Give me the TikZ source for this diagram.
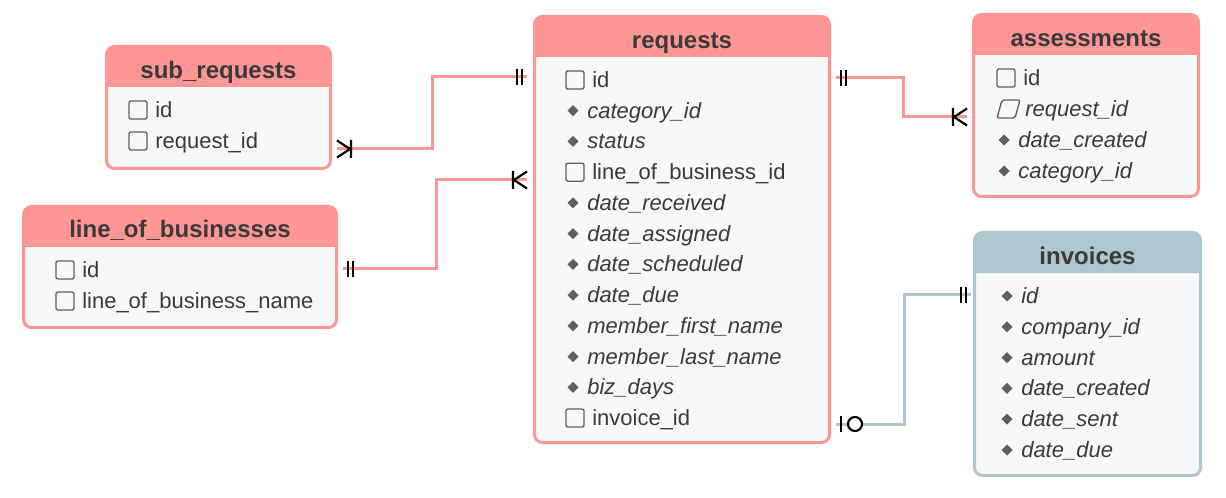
\documentclass[tikz,border=0pt]{standalone}
\usepackage{fontspec}
\setmainfont{Liberation Sans}
\usetikzlibrary{calc, positioning}
\definecolor{erpink}{RGB}{255, 150, 150}
\definecolor{erteal}{RGB}{172, 200, 206}
\definecolor{erbody}{RGB}{247, 248, 250}
\definecolor{ertext}{RGB}{58, 58, 58}
\definecolor{ericon}{RGB}{95, 95, 95}

\begin{document}
\begin{tikzpicture}[x=0.75pt, y=-0.75pt,
    tbl/.style={rectangle, draw=#1, fill=erbody, line width=2.25pt, rounded corners=6pt, inner sep=0pt, outer sep=0pt},
    title/.style={font=\fontsize{18}{20}\selectfont\bfseries, text=ertext, anchor=base, inner sep=0pt},
    fld/.style={font=\fontsize{16.5}{18}\selectfont, text=ertext, anchor=base west, inner sep=0pt},
    chk-txt/.style={fld, xshift=19.5pt},
    dia-txt/.style={fld, xshift=15.75pt, font=\fontsize{16.5}{18}\selectfont\itshape},
    slant-txt/.style={fld, xshift=21pt, font=\fontsize{16.5}{18}\selectfont\itshape},
    rel/.style={draw=#1, line width=2.25pt},
    crowline/.style={draw=black, line width=1.6pt},
    chk/.pic={\draw[ericon, line width=1pt, rounded corners=1.5pt] (0,-9) rectangle (18,9);},
    slant/.pic={\draw[ericon, line width=1pt, rounded corners=1.5pt] (0,9) -- (18,9) -- (23,-9) -- (5,-9) -- cycle;},
    dia/.pic={\fill[ericon] (1.5,0) -- (7,-5.5) -- (12.5,0) -- (7,5.5) -- cycle;},
    mandone/.pic={\draw[crowline] (5,-8) -- (5,8) (10,-8) -- (10,8);},
    onemany/.pic={\draw[crowline] (0,-8.5) -- (13,0) -- (0,8.5) (14,-9) -- (14,9);},
    zeroone/.pic={\draw[crowline] (5,-8) -- (5,8); \draw[crowline, fill=white] (19,0) circle [radius=5.25pt];}
]
    \useasboundingbox (0,0) rectangle (1226,498);

    % sub_requests
    \node[tbl=erpink, minimum width=224*0.75pt, minimum height=122*0.75pt] (subreq) at (218.5,107.5) {};
    \fill[erpink, rounded corners=6pt] (subreq.north west) rectangle ($(subreq.north east)+(0,40.5)$);
    \fill[erpink] ($(subreq.north west)+(0,20)$) rectangle ($(subreq.north east)+(0,40.5)$);
    \node[title] (subreq-title) at (218.5,78.5) {sub\_requests};
    \foreach \k/\f [count=\i from 0] in {chk/id, chk/request\_id} {
        \pic at (129, 110+31*\i) {\k};
        \node[\k-txt] (sr-\i) at (129, 117.5+31*\i) {\f};
    }

    % line_of_businesses
    \node[tbl=erpink, minimum width=313*0.75pt, minimum height=121*0.75pt] (lob) at (180,267) {};
    \fill[erpink, rounded corners=6pt] (lob.north west) rectangle ($(lob.north east)+(0,40.5)$);
    \fill[erpink] ($(lob.north west)+(0,20)$) rectangle ($(lob.north east)+(0,40.5)$);
    \node[title] (lob-title) at (180,237.5) {line\_of\_businesses};
    \foreach \k/\f [count=\i from 0] in {chk/id, chk/line\_of\_business\_name} {
        \pic at (56, 270+31*\i) {\k};
        \node[\k-txt] (lob-\i) at (56, 277.5+31*\i) {\f};
    }

    % requests
    \node[tbl=erpink, minimum width=295*0.75pt, minimum height=426*0.75pt] (requests) at (682,229.5) {};
    \fill[erpink, rounded corners=6pt] (requests.north west) rectangle ($(requests.north east)+(0,40.5)$);
    \fill[erpink] ($(requests.north west)+(0,20)$) rectangle ($(requests.north east)+(0,40.5)$);
    \node[title] (requests-title) at (682,48.5) {requests};
    \foreach \k/\f [count=\i from 0] in {chk/id, dia/category\_id, dia/status, chk/line\_of\_business\_id,
        dia/date\_received, dia/date\_assigned, dia/date\_scheduled, dia/date\_due,
        dia/member\_first\_name, dia/member\_last\_name, dia/biz\_days, chk/invoice\_id} {
        \pic at (566, 80+30.73*\i) {\k};
        \node[\k-txt] (req-\i) at (566, 87.5+30.73*\i) {\f};
    }

    % assessments
    \node[tbl=erpink, minimum width=225*0.75pt, minimum height=182*0.75pt] (assess) at (1086,105.5) {};
    \fill[erpink, rounded corners=6pt] (assess.north west) rectangle ($(assess.north east)+(0,40.5)$);
    \fill[erpink] ($(assess.north west)+(0,20)$) rectangle ($(assess.north east)+(0,40.5)$);
    \node[title] (assess-title) at (1086,46.5) {assessments};
    \foreach \k/\f [count=\i from 0] in {chk/id, slant/request\_id, dia/date\_created, dia/category\_id} {
        \pic at (997, 78+31*\i) {\k};
        \node[\k-txt] (as-\i) at (997, 85.5+31*\i) {\f};
    }

    % invoices
    \node[tbl=erteal, minimum width=226*0.75pt, minimum height=243*0.75pt] (invoices) at (1087.5,354) {};
    \fill[erteal, rounded corners=6pt] (invoices.north west) rectangle ($(invoices.north east)+(0,40.5)$);
    \fill[erteal] ($(invoices.north west)+(0,20)$) rectangle ($(invoices.north east)+(0,40.5)$);
    \node[title] (invoices-title) at (1087.5,264.5) {invoices};
    \foreach \k/\f [count=\i from 0] in {dia/id, dia/company\_id, dia/amount, dia/date\_created, dia/date\_sent, dia/date\_due} {
        \pic at (1000, 296+30.8*\i) {\k};
        \node[\k-txt] (inv-\i) at (1000, 303.5+30.8*\i) {\f};
    }

    % relations
    \coordinate (sr-out) at (337,149);
    \coordinate (rq-in1) at (527,77);
    \coordinate (lob-out) at (343,269);
    \coordinate (rq-in2) at (527,180);
    \coordinate (rq-out1) at (836,78);
    \coordinate (as-in) at (967,117);
    \coordinate (inv-out) at (971,295);
    \coordinate (rq-out2) at (836,424);

    \draw[rel=erpink] (sr-out) -| (432,77) -- (rq-in1);
    \draw[rel=erpink] (lob-out) -| (436,180) -- (rq-in2);
    \draw[rel=erpink] (rq-out1) -| (903,117) -- (as-in);
    \draw[rel=erteal] (inv-out) -| (904,424) -- (rq-out2);

    \pic at (sr-out) {onemany};
    \pic[xscale=-1] at (rq-in1) {mandone};
    \pic at (lob-out) {mandone};
    \pic[xscale=-1] at (rq-in2) {onemany};
    \pic at (rq-out1) {mandone};
    \pic[xscale=-1] at (as-in) {onemany};
    \pic[xscale=-1] at (inv-out) {mandone};
    \pic at (rq-out2) {zeroone};
\end{tikzpicture}
\end{document}
